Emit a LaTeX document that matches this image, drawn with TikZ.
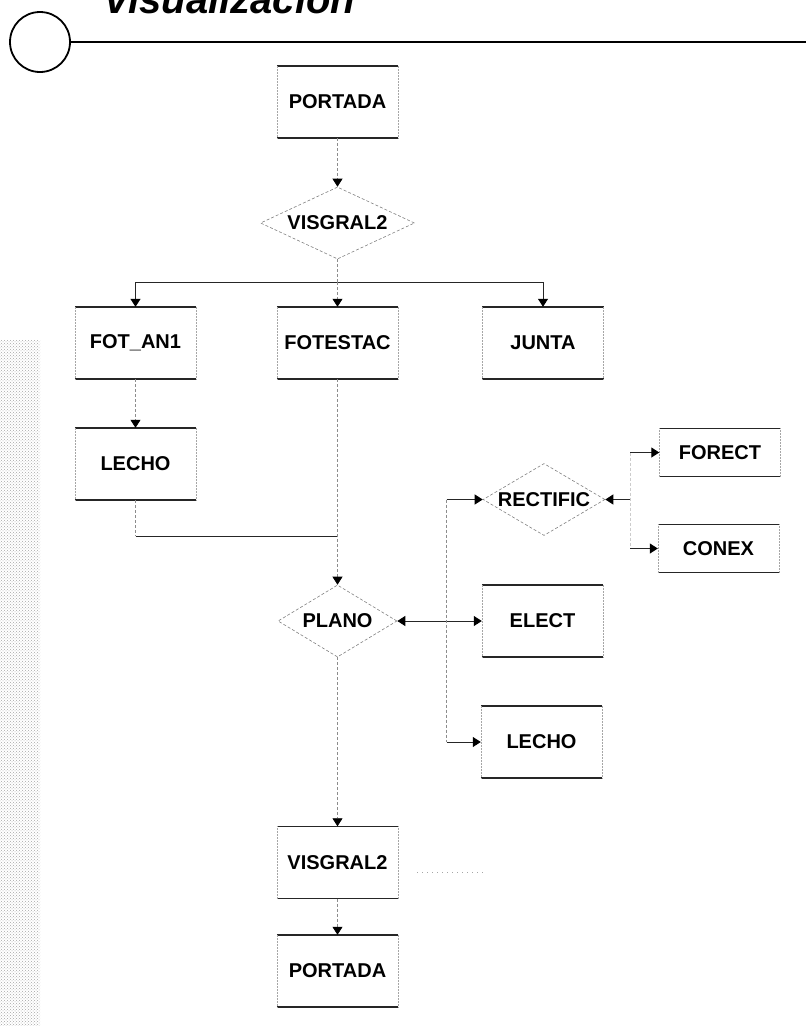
\documentclass[tikz,border=0pt]{standalone}
\usepackage{fontspec}
\setmainfont{Liberation Sans}
\usetikzlibrary{shapes.geometric,arrows.meta,patterns}

\begin{document}
\begin{tikzpicture}[x=1pt, y=-1pt,
		caja/.style={minimum width=121pt, minimum height=72pt, inner sep=0pt, font=\fontsize{20}{20}\selectfont\bfseries},
		cajab/.style={caja, minimum height=48pt},
		rombo/.style={diamond, aspect=2, draw=black!50, densely dashed, line width=0.6pt, minimum height=72pt, inner sep=0pt, font=\fontsize{20}{20}\selectfont\bfseries},
		borde/.style={line width=1.5pt, black!85},
		lado/.style={line width=0.5pt, black!35, densely dotted},
		flujo/.style={line width=0.7pt, black!45, densely dashed},
		linea/.style={line width=1pt, black!85},
		punta/.style={-{Triangle[width=10pt,length=8pt,color=black]}}]

	\useasboundingbox (0,0) rectangle (806,1026);

	% ruido del escaneo
	\fill[pattern=crosshatch dots, pattern color=black!35] (0,340) rectangle (40,1026);

	% Cabecera
	\node[anchor=base west, inner sep=0pt, font=\fontsize{40}{40}\selectfont\bfseries\itshape] (titulo) at (103,13) {Visualización};
	\node[circle, draw, line width=1.8pt, minimum size=60pt, inner sep=0pt] (aro) at (40,42) {};
	\coordinate (fin) at (806,42);
	\draw[line width=1.2pt] (aro.east) -- (fin);

	% Nodos
	\node[caja] (port1) at (337.5,102) {PORTADA};
	\node[rombo, minimum width=154pt] (vis1) at (337.5,223) {VISGRAL2};
	\node[caja] (fot) at (135.5,343) {FOT\_AN1};
	\node[caja] (fotest) at (337.5,343) {FOTESTAC};
	\node[caja] (junta) at (543,343) {JUNTA};
	\node[caja] (lecho1) at (135.5,464) {LECHO};
	\node[rombo, minimum width=122pt] (rect) at (544,499.5) {RECTIFIC};
	\node[cajab] (forect) at (720,452.5) {FORECT};
	\node[cajab] (conex) at (718.5,548.5) {CONEX};
	\node[rombo, minimum width=119pt] (plano) at (337.5,621) {PLANO};
	\node[caja] (elect) at (542.5,621) {ELECT};
	\node[caja] (lecho2) at (541.5,742) {LECHO};
	\node[caja] (vis2) at (337.5,862.5) {VISGRAL2};
	\node[caja] (port2) at (337.5,971) {PORTADA};

	\foreach \n in {port1,fot,fotest,junta,lecho1,forect,conex,elect,lecho2,vis2,port2} {
			\draw[borde] (\n.north west) -- (\n.north east) (\n.south west) -- (\n.south east);
			\draw[lado] (\n.north west) -- (\n.south west) (\n.north east) -- (\n.south east);
		}

	% Conexiones
	\coordinate (bus) at (337.5,282);
	\draw[flujo, punta] (port1) -- (vis1);
	\draw[flujo] (vis1) -- (bus);
	\draw[linea, punta] (bus) -| (fot.north);
	\draw[linea, punta] (bus) -| (junta.north);
	\draw[flujo, punta] (bus) -- (fotest.north);
	\draw[flujo, punta] (fot) -- (lecho1);

	\coordinate (codo) at (135.5,536);
	\coordinate (union) at (337.5,536);
	\draw[flujo] (lecho1.south) -- (codo);
	\draw[linea] (codo) -- (union);
	\draw[flujo, punta] (fotest) -- (plano);

	\draw[linea, {Triangle[width=10pt,length=8pt,color=black]}-{Triangle[width=10pt,length=8pt,color=black]}] (plano.east) -- (elect.west);

	\coordinate (tapL) at ([xshift=-36pt]rect.west);
	\coordinate (tapL2) at (tapL |- lecho2.west);
	\draw[linea, punta] (tapL) -- (rect.west);
	\draw[flujo] (tapL) -- (tapL2);
	\draw[linea, punta] (tapL2) -- (lecho2.west);

	\coordinate (tapR) at ([xshift=25pt]rect.east);
	\coordinate (topR) at (tapR |- forect.west);
	\coordinate (botR) at (tapR |- conex.west);
	\draw[linea, punta] (tapR) -- (rect.east);
	\draw[flujo, black!20] (topR) -- (botR);
	\draw[linea, punta] (topR) -- (forect.west);
	\draw[linea, punta] (botR) -- (conex.west);

	\draw[flujo, punta] (plano) -- (vis2);
	\draw[flujo, punta] (vis2) -- (port2);

	\coordinate (restoA) at ([xshift=19pt,yshift=-10pt]vis2.east);
	\coordinate (restoB) at ([xshift=85pt,yshift=-10pt]vis2.east);
	\draw[loosely dotted, line width=1pt, black!35] (restoA) -- (restoB);
\end{tikzpicture}
\end{document}
